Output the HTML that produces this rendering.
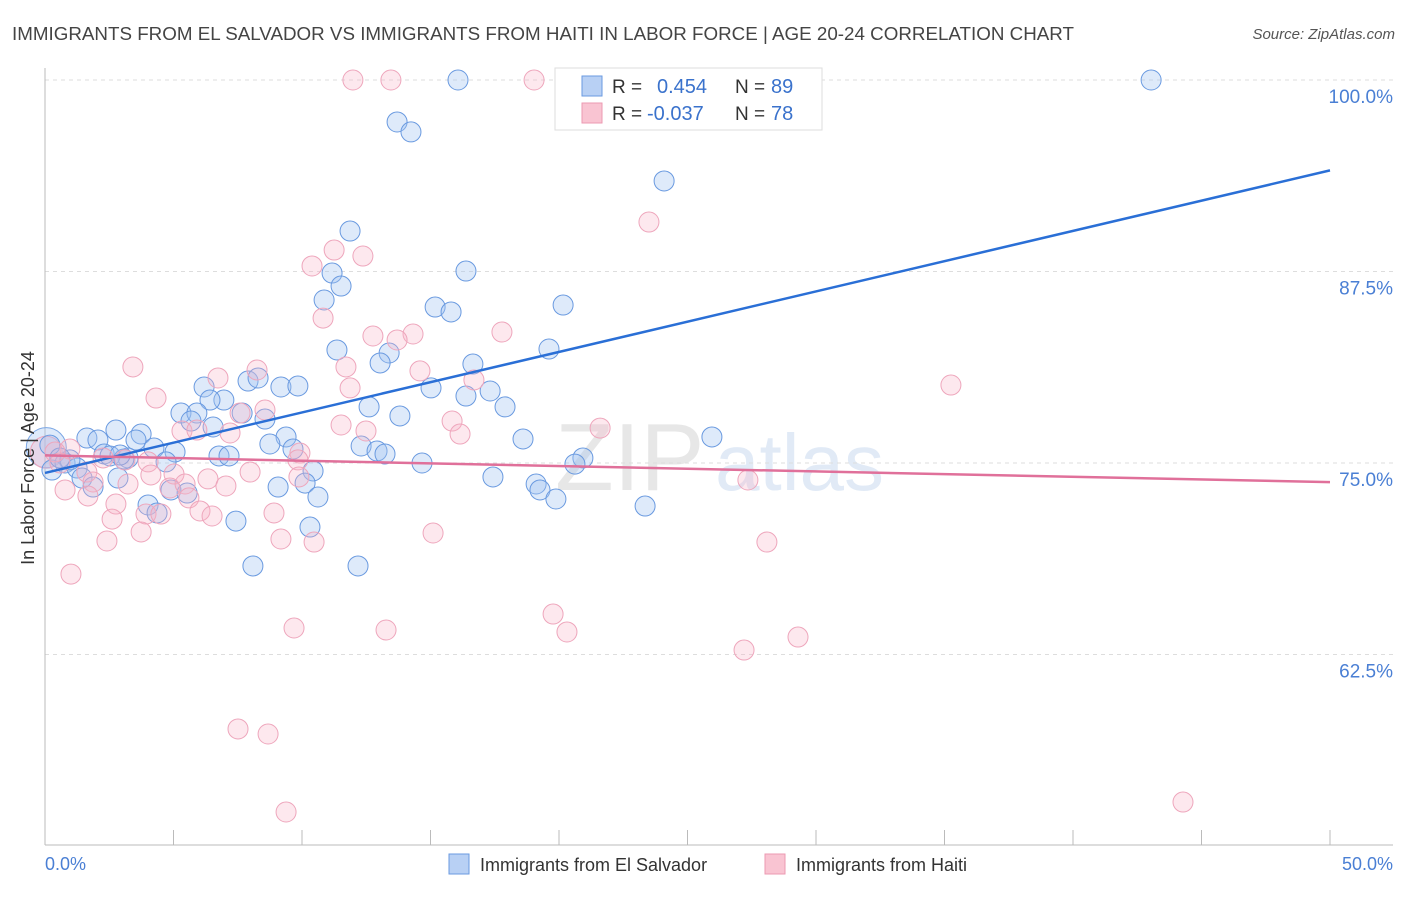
<!DOCTYPE html>
<html><head><meta charset="utf-8"><style>
body{margin:0;background:#fff;font-family:"Liberation Sans",sans-serif;}
svg text{font-family:"Liberation Sans",sans-serif;}
</style></head><body>
<svg id="chart" width="1406" height="892" xmlns="http://www.w3.org/2000/svg">
<text x="12" y="40" font-size="18" fill="#444" textLength="1062" lengthAdjust="spacingAndGlyphs">IMMIGRANTS FROM EL SALVADOR VS IMMIGRANTS FROM HAITI IN LABOR FORCE | AGE 20-24 CORRELATION CHART</text>
<text x="1395" y="39" font-size="15" fill="#555" font-style="italic" text-anchor="end">Source: ZipAtlas.com</text>
<g opacity="0.5">
<text x="555" y="490" font-size="96" fill="#d0d0d0" font-family="Liberation Serif">ZIP</text>
<text x="715" y="490" font-size="80" fill="#c4d6ee">atlas</text>
</g>
<g id="grid"></g><g id="axes"></g><g id="pts"></g><g id="lines"></g>
<text transform="translate(34,458) rotate(-90)" font-size="18" fill="#333" text-anchor="middle">In Labor Force | Age 20-24</text>
<text x="45" y="870" font-size="18" fill="#4a7fd4">0.0%</text>
<text x="1393" y="870" font-size="18" fill="#4a7fd4" text-anchor="end">50.0%</text>
<g>
<rect x="555" y="68" width="267" height="62" fill="#fff" stroke="#ddd"/>
<rect x="582" y="76" width="20" height="20" fill="#b8d0f4" stroke="#6a9ae0"/>
<rect x="582" y="103" width="20" height="20" fill="#f9c4d2" stroke="#ec9ab2"/>
<text x="612" y="93" font-size="19" fill="#333">R =</text>
<text x="657" y="93" font-size="20" fill="#3a72cc">0.454</text>
<text x="735" y="93" font-size="19" fill="#333">N =</text>
<text x="771" y="93" font-size="20" fill="#3a72cc">89</text>
<text x="612" y="120" font-size="19" fill="#333">R =</text>
<text x="647" y="120" font-size="20" fill="#3a72cc">-0.037</text>
<text x="735" y="120" font-size="19" fill="#333">N =</text>
<text x="771" y="120" font-size="20" fill="#3a72cc">78</text>
</g>
<g>
<rect x="449" y="854" width="20" height="20" fill="#b8d0f4" stroke="#6a9ae0"/>
<text x="480" y="871" font-size="18" fill="#333">Immigrants from El Salvador</text></g>
<g>
<rect x="765" y="854" width="20" height="20" fill="#f9c4d2" stroke="#ec9ab2"/>
<text x="796" y="871" font-size="18" fill="#333">Immigrants from Haiti</text></g>
</svg>
<script>
const yTicks=[100,87.5,75,62.5];
const yTickLabels=["100.0%","87.5%","75.0%","62.5%"];
const blueX=[16.07,43.04,13.70,14.24,24.09,11.87,16.38,11.17,11.52,10.86,15.18,15.80,20.16,11.36,13.39,13.04,19.61,16.65,7.90,8.29,6.19,9.18,9.84,15.02,17.32,16.38,6.96,6.42,5.29,5.91,7.67,12.61,13.81,17.90,5.68,6.54,8.56,2.76,3.74,1.63,2.06,3.54,9.38,18.60,25.95,8.75,9.65,4.24,12.30,12.92,13.23,5.06,2.30,3.23,2.53,6.77,7.16,4.71,3.07,20.93,20.62,14.67,0.19,0.27,0.78,1.25,1.44,1.87,2.84,10.43,10.12,9.07,17.43,19.11,19.26,19.88,23.35,10.62,4.90,5.53,4.01,4.36,7.43,10.31,8.09,12.18,0.97,0.58,2.92];
const blueY=[100,100,97.26,96.61,93.41,90.14,87.53,87.40,86.55,85.64,85.18,84.86,85.31,82.38,82.18,81.53,82.44,81.46,80.35,80.55,79.96,79.96,80.03,79.90,79.70,79.37,79.11,79.11,78.26,78.26,78.26,78.66,78.07,78.66,77.74,77.35,77.87,77.15,76.89,76.63,76.50,76.50,76.70,76.57,76.70,76.24,75.91,75.98,76.11,75.78,75.59,75.72,75.59,75.33,75.46,75.46,75.46,75.07,75.26,75.33,74.93,75.00,76.17,74.54,75.00,74.67,74.02,73.43,74.02,74.48,73.69,73.43,74.09,73.63,73.24,72.65,72.19,72.78,73.24,73.04,72.26,71.74,71.21,70.82,68.28,68.28,75.20,75.33,75.52];
const pinkX=[11.98,13.46,19.03,23.50,11.25,10.39,12.37,10.82,17.78,12.76,14.32,13.70,3.42,11.71,14.59,6.73,8.25,16.69,11.87,35.25,4.32,7.59,8.56,15.84,11.52,12.49,16.15,21.60,5.33,5.91,7.20,9.92,9.84,2.26,3.11,4.01,0.97,0.39,1.63,4.12,5.02,6.34,7.98,9.88,1.87,3.23,4.86,5.45,7.04,0.78,5.60,2.76,1.67,3.93,4.51,6.03,6.50,8.91,2.61,3.74,2.41,9.18,10.47,15.10,27.35,28.09,1.01,19.77,20.31,13.27,9.69,29.30,27.20,7.51,8.68,9.38,44.28,0.58];
const pinkY=[100,100,100,90.73,88.90,87.86,88.51,84.46,83.55,83.29,83.42,83.03,81.27,81.27,81.01,80.55,81.07,80.42,79.90,80.09,79.24,78.26,78.46,77.74,77.48,77.09,76.89,77.28,77.09,77.15,76.96,75.65,75.20,75.33,75.20,75.07,75.91,75.72,74.41,74.22,74.28,73.96,74.41,74.09,73.76,73.63,73.37,73.63,73.50,73.24,72.72,72.32,72.85,71.67,71.67,71.87,71.54,71.74,71.34,70.50,69.91,70.04,69.84,70.43,73.89,69.84,67.75,65.14,63.97,64.10,64.23,63.64,62.79,57.64,57.31,52.22,52.87,75.00];
const bigX=[0.05,0.05];
const bigY=[76.0,75.7];
const blueTrend=[74.35,94.1];
const pinkTrend=[75.5,73.75];
const NS="http://www.w3.org/2000/svg";
const xs=v=>45+v/50*1285;
const ys=v=>80+(100-v)/12.5*191.5;
function mk(tag,attrs,parent){const e=document.createElementNS(NS,tag);for(const k in attrs)e.setAttribute(k,attrs[k]);parent.appendChild(e);return e;}
const grid=document.getElementById('grid'),axes=document.getElementById('axes'),pts=document.getElementById('pts'),lines=document.getElementById('lines');
yTicks.forEach((t,i)=>{
 const l=mk('line',{x1:45,x2:1393,y1:ys(t),y2:ys(t),stroke:'#ddd','stroke-dasharray':'4,4'},grid);
 
 
 const tx=mk('text',{x:1393,y:ys(t)+23,'font-size':19,fill:'#4a7fd4','text-anchor':'end'},grid);
 tx.textContent=yTickLabels[i];
 
 
});
const ax=mk('line',{x1:45,x2:1393,y1:845,y2:845,stroke:'#bbb'},axes);


const ay=mk('line',{x1:45,x2:45,y1:68,y2:845,stroke:'#bbb'},axes);


for(let v=0;v<=50;v+=5){const t=mk('line',{x1:xs(v),x2:xs(v),y1:830,y2:845,stroke:'#bbb'},axes);
 
 }
function dot(x,y,r,fill,stroke,name){const c=mk('circle',{cx:xs(x),cy:ys(y),r:r,fill:fill,stroke:stroke,'stroke-width':1},pts);
 
 }
dot(bigX[0],bigY[0],20,'rgba(160,196,240,0.35)','#7aa6e4','blue-point-large');
dot(bigX[1],bigY[1],16,'rgba(248,180,200,0.35)','#eea6bc','pink-point-large');
blueX.forEach((x,i)=>dot(x,blueY[i],10,'rgba(160,196,240,0.35)','#6a9ae0','el-salvador-point'));
pinkX.forEach((x,i)=>dot(x,pinkY[i],10,'rgba(248,180,200,0.3)','#eea6bc','haiti-point'));
const bl=mk('line',{x1:xs(0),y1:ys(blueTrend[0]),x2:xs(50),y2:ys(blueTrend[1]),stroke:'#2a6fd6','stroke-width':2.5},lines);


const pl=mk('line',{x1:xs(0),y1:ys(pinkTrend[0]),x2:xs(50),y2:ys(pinkTrend[1]),stroke:'#e0709a','stroke-width':2.5},lines);


</script>
</body></html>
